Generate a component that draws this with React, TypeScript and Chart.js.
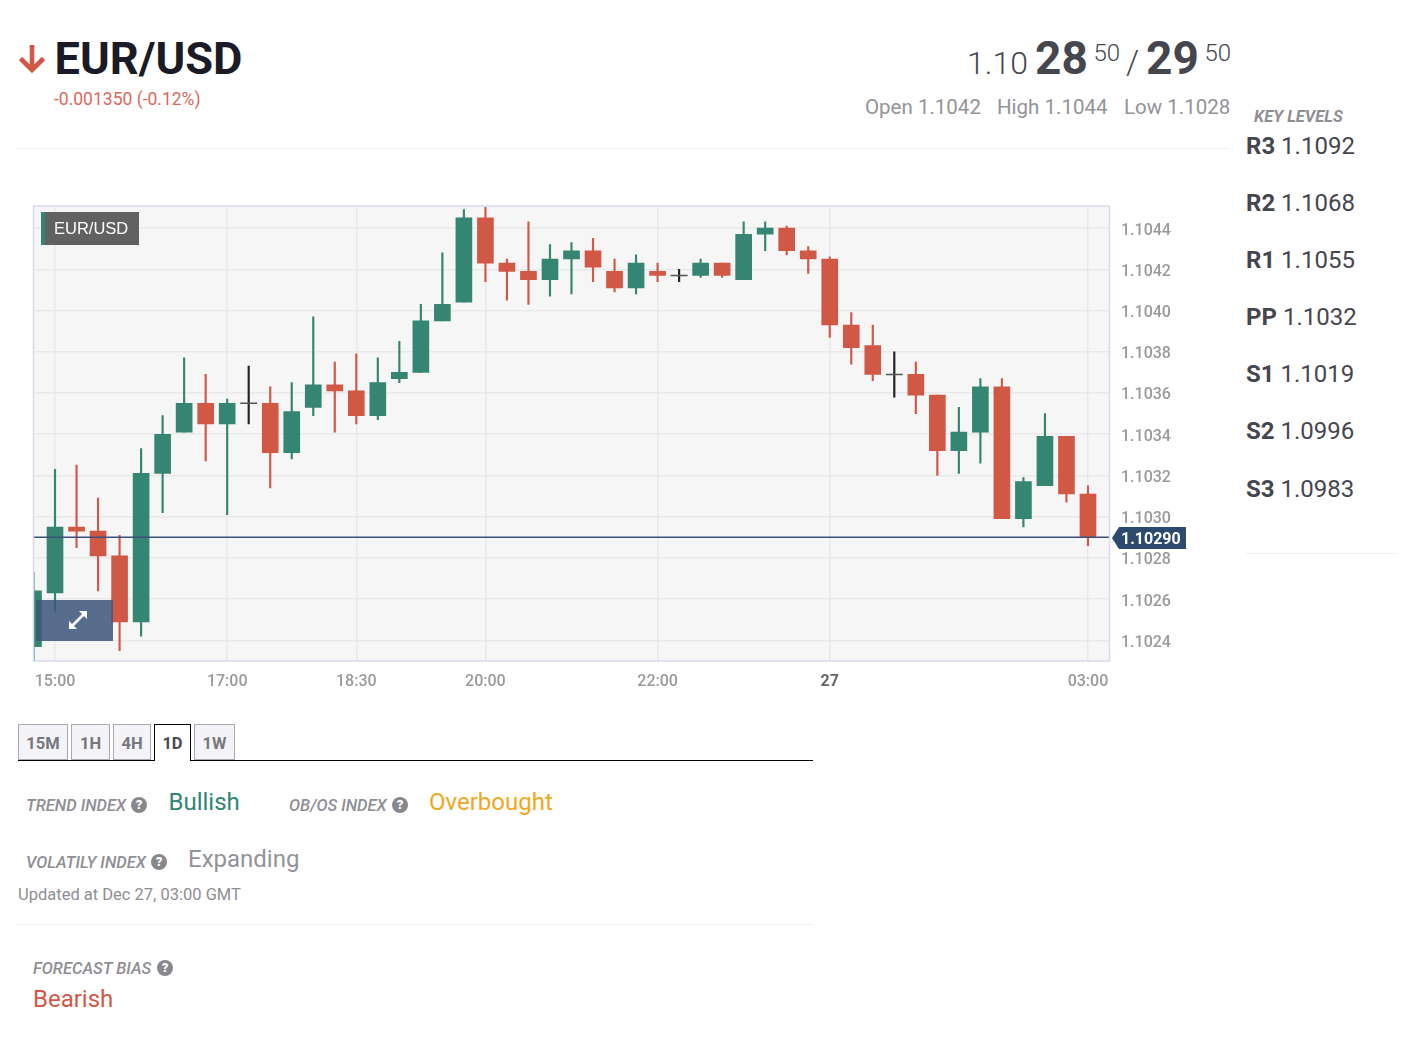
import { useEffect, useRef } from "react";
import { Chart, registerables } from "chart.js";

Chart.register(...registerables);

const FONT = "Roboto, sans-serif";
const RED = "#d25846";
const GREEN = "#348571";
const DOJI = "#222222";

// one candle every 15 minutes, first one is 14:45
const opens = [
  1.10237, 1.10263, 1.10295, 1.10293, 1.10281, 1.10249, 1.10321, 1.10341, 1.10355, 1.10345,
  1.10355, 1.10355, 1.10331, 1.10353, 1.10364, 1.10361, 1.10349, 1.10367, 1.1037, 1.10395,
  1.10404, 1.10445, 1.10423, 1.10419, 1.10415, 1.10425, 1.10429, 1.10419, 1.10411, 1.10419,
  1.10417, 1.10417, 1.10423, 1.10415, 1.10437, 1.1044, 1.10429, 1.10425, 1.10393, 1.10383,
  1.10369, 1.10369, 1.10359, 1.10332, 1.10341, 1.10363, 1.10299, 1.10315, 1.10339, 1.10311,
];
const highs = [
  1.10273, 1.10323, 1.10325, 1.10309, 1.10291, 1.10333, 1.10349, 1.10377, 1.10369, 1.10357,
  1.10373, 1.10363, 1.10365, 1.10397, 1.10375, 1.10379, 1.10377, 1.10385, 1.10403, 1.10428,
  1.10449, 1.1045, 1.10425, 1.10443, 1.10432, 1.10433, 1.10435, 1.10425, 1.10427, 1.10423,
  1.1042, 1.10425, 1.10423, 1.10443, 1.10443, 1.10441, 1.10431, 1.10426, 1.10399, 1.10393,
  1.1038, 1.10375, 1.10359, 1.10353, 1.10367, 1.10367, 1.10319, 1.1035, 1.10339, 1.10315,
];
const lows = [
  1.1023, 1.10254, 1.10285, 1.10264, 1.10235, 1.10242, 1.10302, 1.10341, 1.10327, 1.10301,
  1.10345, 1.10314, 1.10328, 1.10349, 1.10341, 1.10345, 1.10347, 1.10365, 1.1037, 1.10395,
  1.10404, 1.10414, 1.10405, 1.10403, 1.10407, 1.10408, 1.10414, 1.10409, 1.10408, 1.10414,
  1.10414, 1.10416, 1.10416, 1.10415, 1.10429, 1.10427, 1.10418, 1.10387, 1.10374, 1.10366,
  1.10358, 1.1035, 1.1032, 1.10321, 1.10326, 1.10299, 1.10295, 1.10315, 1.10307, 1.10286,
];
const closes = [
  1.10264, 1.10295, 1.10293, 1.10281, 1.10249, 1.10321, 1.1034, 1.10355, 1.10345, 1.10355,
  1.10355, 1.10331, 1.10351, 1.10364, 1.10361, 1.10349, 1.10365, 1.1037, 1.10395, 1.10403,
  1.10445, 1.10423, 1.10419, 1.10415, 1.10425, 1.10429, 1.10421, 1.10411, 1.10423, 1.10417,
  1.10417, 1.10423, 1.10417, 1.10437, 1.1044, 1.10429, 1.10425, 1.10393, 1.10382, 1.10369,
  1.10369, 1.10359, 1.10332, 1.10341, 1.10363, 1.10299, 1.10317, 1.10339, 1.10311, 1.1029,
];

const lastPrice = 1.1029;
const yTicks = [1.1024, 1.1026, 1.1028, 1.103, 1.1032, 1.1034, 1.1036, 1.1038, 1.104, 1.1042, 1.1044];
const xTicks = [1, 9, 15, 21, 29, 37, 49];
const xTickLabels = ["15:00", "17:00", "18:30", "20:00", "22:00", "27", "03:00"];

const levelNames = ["R3", "R2", "R1", "PP", "S1", "S2", "S3"];
const levelValues = ["1.1092", "1.1068", "1.1055", "1.1032", "1.1019", "1.0996", "1.0983"];
const levelRows = [146, 203, 260, 317, 374, 431, 489];

const tabs = ["15M", "1H", "4H", "1D", "1W"];
const tabLeft = [18, 71, 113, 154, 194];
const tabWidth = [50, 39, 38, 37, 41];

const candleColor = (i: number) =>
  closes[i] === opens[i] ? DOJI : closes[i] > opens[i] ? GREEN : RED;

const plotFrame = {
  id: "plotFrame",
  beforeDraw(chart: Chart) {
    const { ctx, chartArea: a } = chart;
    ctx.save();
    ctx.fillStyle = "#f6f6f6";
    ctx.fillRect(a.left, a.top, a.width, a.height);
    ctx.restore();
  },
  afterDraw(chart: Chart) {
    const { ctx, chartArea: a } = chart;
    ctx.save();
    ctx.strokeStyle = "#d6dbec";
    ctx.lineWidth = 1.5;
    ctx.strokeRect(a.left, a.top, a.width, a.height);
    ctx.restore();
  },
};

// the axes must not push the plot inwards for their first and last label
const noLabelPadding = (scale: any) => {
  scale.paddingLeft = 0;
  scale.paddingRight = 0;
  scale.paddingTop = 0;
  scale.paddingBottom = 0;
};

function CandleChart() {
  const chartRef = useRef<HTMLCanvasElement>(null);

  useEffect(() => {
    if (!chartRef.current) return;
    const indexes = opens.map((_, i) => i);
    const bodies = indexes.filter((i) => opens[i] !== closes[i]);
    const dojis = indexes.filter((i) => opens[i] === closes[i]);

    const chart = new Chart(chartRef.current, {
      type: "bar",
      data: {
        datasets: [
          {
            type: "line",
            data: [{ x: 0, y: lastPrice }, { x: 50, y: lastPrice }],
            borderColor: "#3a5279",
            borderWidth: 1.5,
            pointRadius: 0,
            order: 0,
          },
          {
            type: "line",
            showLine: false,
            data: dojis.map((i) => ({ x: i, y: opens[i] })),
            pointStyle: "line",
            pointRadius: 8.5,
            pointBorderColor: "#555555",
            pointBorderWidth: 1.5,
            order: 1,
          },
          {
            data: bodies.map((i) => ({ x: i, y: [opens[i], closes[i]] })),
            backgroundColor: bodies.map(candleColor),
            barThickness: 16,
            grouped: false,
            order: 2,
          },
          {
            data: indexes.map((i) => ({ x: i, y: [lows[i], highs[i]] })),
            backgroundColor: indexes.map(candleColor),
            barThickness: 1.5,
            grouped: false,
            order: 3,
          },
        ] as any,
      },
      options: {
        responsive: true,
        maintainAspectRatio: false,
        animation: false,
        events: [],
        layout: { autoPadding: false, padding: { left: 3.5, top: 6, right: 0, bottom: 0 } },
        plugins: { legend: { display: false }, tooltip: { enabled: false } },
        scales: {
          x: {
            type: "linear",
            min: 0,
            max: 50,
            offset: false,
            border: { display: false },
            grid: { color: "#e9e9e9", lineWidth: 1.5, drawTicks: false, offset: false },
            afterBuildTicks: (scale) => {
              scale.ticks = xTicks.map((value) => ({ value }));
            },
            afterFit: (scale) => {
              scale.height = 39;
              noLabelPadding(scale);
            },
            ticks: {
              autoSkip: false,
              maxRotation: 0,
              padding: 11,
              font: (c: any) => ({
                family: FONT,
                size: 16,
                weight: c.tick && c.tick.value === 37 ? 700 : 500,
              }),
              color: (c: any) => (c.tick && c.tick.value === 37 ? "#666666" : "#9a9a9a"),
              callback: (value) => xTickLabels[xTicks.indexOf(Number(value))],
            },
          },
          y: {
            position: "right",
            min: 1.1023,
            max: 1.104507,
            border: { display: false },
            grid: { color: "#e9e9e9", lineWidth: 1.5, drawTicks: false },
            afterBuildTicks: (scale) => {
              scale.ticks = yTicks.map((value) => ({ value }));
            },
            afterFit: (scale) => {
              scale.width = 90.5;
              noLabelPadding(scale);
            },
            ticks: {
              padding: 11.5,
              labelOffset: 2.5,
              font: { family: FONT, size: 16, weight: 500 },
              color: "#9a9a9a",
              callback: (value) => Number(value).toFixed(4),
            },
          },
        },
      },
      plugins: [plotFrame],
    });

    return () => chart.destroy();
  }, []);

  return <canvas ref={chartRef} />;
}

interface TxtProps {
  x: number;
  y: number;
  size: number;
  color: string;
  weight?: number;
  italic?: boolean;
  family?: string;
  children: React.ReactNode;
}

// text placed by its left edge and vertical centre
function Txt({ x, y, size, color, weight = 400, italic, family = FONT, children }: TxtProps) {
  return (
    <div
      style={{
        position: "absolute",
        left: x,
        top: y - 20,
        height: 40,
        lineHeight: "40px",
        fontFamily: family,
        fontSize: size,
        fontWeight: weight,
        fontStyle: italic ? "italic" : "normal",
        color,
        whiteSpace: "nowrap",
      }}
    >
      {children}
    </div>
  );
}

function Help({ x, y }: { x: number; y: number }) {
  return (
    <div
      style={{
        position: "absolute",
        left: x,
        top: y - 8,
        width: 16,
        height: 16,
        borderRadius: 8,
        background: "#88888c",
        color: "#fff",
        fontFamily: FONT,
        fontSize: 13,
        fontWeight: 900,
        lineHeight: "16px",
        textAlign: "center",
      }}
    >
      ?
    </div>
  );
}

function Rule({ x, y, w, color = "#eeeef3" }: { x: number; y: number; w: number; color?: string }) {
  return <div style={{ position: "absolute", left: x, top: y, width: w, height: 1, background: color }} />;
}

export default function App() {
  const dark = "#46464f";
  const soft = "#8e8e94";
  return (
    <div style={{ position: "absolute", left: 0, top: 0, width: 1405, height: 1047, overflow: "hidden", background: "#fff" }}>
      <svg style={{ position: "absolute", left: 16, top: 42 }} width={32} height={34}>
        <path d="M16 3 V28 M4.5 16.5 L16 28 L27.5 16.5" fill="none" stroke={RED} strokeWidth={4.6} />
      </svg>
      <Txt x={54.5} y={58.5} size={45.2} color="#1a1b26" weight={700}>EUR/USD</Txt>
      <Txt x={54} y={99} size={17.5} color="#d9695c">-0.001350 (-0.12%)</Txt>

      <Txt x={967} y={63} size={32} color={dark} weight={300}>1.10</Txt>
      <Txt x={1035} y={58} size={46} color={dark} weight={700}>28</Txt>
      <Txt x={1093.5} y={53} size={24} color={dark} weight={300}>50</Txt>
      <Txt x={1126} y={63} size={33} color={dark} weight={300}>/</Txt>
      <Txt x={1146} y={58} size={46} color={dark} weight={700}>29</Txt>
      <Txt x={1204.5} y={53} size={24} color={dark} weight={300}>50</Txt>

      <Txt x={865} y={107} size={20.5} color="#939398">Open 1.1042</Txt>
      <Txt x={997} y={107} size={20.5} color="#939398">High 1.1044</Txt>
      <Txt x={1124} y={107} size={20.5} color="#939398">Low 1.1028</Txt>
      <Rule x={17} y={148} w={1213} />

      <Txt x={1254} y={117} size={16.5} color={soft} weight={700} italic>KEY LEVELS</Txt>
      {levelNames.map((name, i) => (
        <Txt key={name} x={1246} y={levelRows[i]} size={24} color={dark}>
          <b style={{ fontWeight: 700 }}>{name}</b> {levelValues[i]}
        </Txt>
      ))}
      <Rule x={1246} y={553} w={150} />

      <div style={{ position: "absolute", left: 30, top: 200, width: 1170, height: 500 }}>
        <CandleChart />
      </div>

      <div style={{ position: "absolute", left: 41, top: 212, width: 98, height: 33, background: "#616161" }}>
        <div style={{ position: "absolute", left: 0, top: 0, width: 4, height: 33, background: GREEN }} />
      </div>
      <Txt x={54} y={228} size={16.5} color="#fff" family="'Liberation Sans', sans-serif">EUR/USD</Txt>

      <div style={{ position: "absolute", left: 36, top: 600, width: 77, height: 41, background: "rgba(62,86,124,0.86)" }}>
        <svg style={{ position: "absolute", left: 30, top: 8 }} width={24} height={24}>
          <path d="M6 18 L18 6" stroke="#fff" strokeWidth={2.6} />
          <path d="M13 3 H21 V11 Z M3 13 V21 H11 Z" fill="#fff" />
        </svg>
      </div>

      <div
        style={{
          position: "absolute",
          left: 1112,
          top: 527,
          width: 74,
          height: 22,
          background: "#2c4a6e",
          clipPath: "polygon(0 50%, 7px 0, 100% 0, 100% 100%, 7px 100%)",
        }}
      />
      <Txt x={1121} y={538.5} size={16} color="#fff" weight={700}>1.10290</Txt>

      {tabs.map((tab, i) => {
        const active = tab === "1D";
        return (
          <div
            key={tab}
            style={{
              position: "absolute",
              boxSizing: "border-box",
              left: tabLeft[i],
              top: 724,
              width: tabWidth[i],
              height: active ? 37 : 36,
              background: active ? "#fff" : "#f3f3f8",
              border: active ? "1.5px solid #000" : "1.5px solid #aaaaae",
              borderBottom: active ? "none" : "1.5px solid #aaaaae",
              fontFamily: FONT,
              fontSize: 16.5,
              fontWeight: 700,
              lineHeight: "37px",
              textAlign: "center",
              color: active ? "#4a4a52" : "#77777d",
              zIndex: active ? 2 : 0,
            }}
          >
            {tab}
          </div>
        );
      })}
      <div style={{ position: "absolute", left: 18, top: 760, width: 795, height: 1, background: "#000", zIndex: 1 }} />

      <Txt x={26} y={805.5} size={16.5} color={soft} weight={500} italic>TREND INDEX</Txt>
      <Help x={131} y={805} />
      <Txt x={168.5} y={802} size={24} color="#2f8574">Bullish</Txt>
      <Txt x={289} y={805.5} size={16.5} color={soft} weight={500} italic>OB/OS INDEX</Txt>
      <Help x={392} y={805} />
      <Txt x={429} y={802} size={24} color="#f0a820">Overbought</Txt>
      <Txt x={26} y={862.5} size={16.5} color={soft} weight={500} italic>VOLATILY INDEX</Txt>
      <Help x={151} y={862} />
      <Txt x={188} y={859} size={24} color="#929299">Expanding</Txt>
      <Txt x={18} y={894.5} size={16.5} color={soft}>Updated at Dec 27, 03:00 GMT</Txt>
      <Rule x={17} y={924} w={796} />
      <Txt x={33} y={968.5} size={16.5} color={soft} weight={500} italic>FORECAST BIAS</Txt>
      <Help x={157} y={968} />
      <Txt x={33} y={999} size={24} color={RED}>Bearish</Txt>
    </div>
  );
}
